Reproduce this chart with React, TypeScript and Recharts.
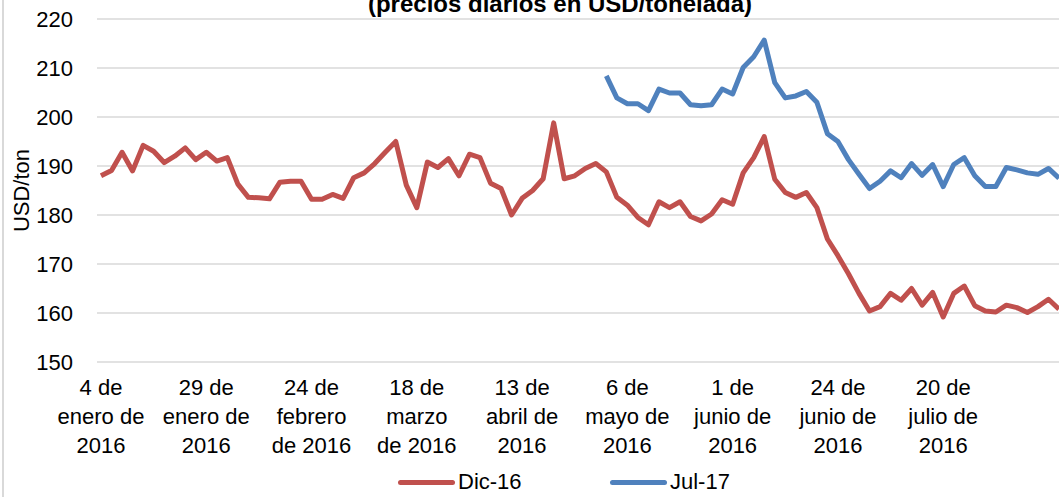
import { LineChart, Line, XAxis, YAxis, CartesianGrid, Legend } from 'recharts';

const DIC_16 = [
  188, 189.1, 192.8, 189, 194.2, 193, 190.7, 192, 193.7, 191.3,
  192.8, 191, 191.7, 186.3, 183.6, 183.5, 183.3, 186.7, 186.9, 186.9,
  183.2, 183.2, 184.2, 183.4, 187.6, 188.6, 190.5, 192.8, 195, 186.1,
  181.5, 190.8, 189.7, 191.5, 188, 192.4, 191.7, 186.5, 185.4, 180,
  183.4, 185, 187.4, 198.8, 187.4, 188, 189.5, 190.5, 188.8, 183.6,
  182, 179.5, 178, 182.7, 181.5, 182.7, 179.7, 178.8, 180.2, 183.1,
  182.2, 188.6, 191.7, 196, 187.3, 184.6, 183.6, 184.6, 181.5, 175.1,
  171.7, 168, 164, 160.4, 161.3, 164, 162.6, 165, 161.6, 164.2,
  159.2, 164, 165.5, 161.5, 160.4, 160.2, 161.6, 161.1, 160.1, 161.3,
  162.8, 160.8,
];

// Jul-17 contract only starts trading at point 48
const JUL_17_START = 48;
const JUL_17 = [
  208.4, 203.9, 202.7, 202.7, 201.3, 205.7, 204.9, 204.9, 202.5, 202.3,
  202.5, 205.7, 204.7, 210.1, 212.3, 215.7, 207, 203.9, 204.3, 205.2,
  203, 196.6, 195, 191.3, 188.3, 185.4, 186.9, 189, 187.6, 190.5,
  188.1, 190.3, 185.8, 190.3, 191.7, 188, 185.8, 185.8, 189.7, 189.2,
  188.6, 188.3, 189.5, 187.5,
];

const TICK_STEP = 10;
const TICK_LABELS = [
  '4 de\nenero de\n2016',
  '29 de\nenero de\n2016',
  '24 de\nfebrero\nde 2016',
  '18 de\nmarzo\nde 2016',
  '13 de\nabril de\n2016',
  '6 de\nmayo de\n2016',
  '1 de\njunio de\n2016',
  '24 de\njunio de\n2016',
  '20 de\njulio de\n2016',
];

const Y_TICKS = [150, 160, 170, 180, 190, 200, 210, 220];

const RED = '#C0504D';
const BLUE = '#4F81BD';
const GRID = '#D9D9D9';
const FONT = '"Liberation Sans", Arial, sans-serif';

const data = DIC_16.map((v, i) => ({
  i,
  dic: v,
  jul: i >= JUL_17_START ? JUL_17[i - JUL_17_START] : null,
  label: i % TICK_STEP === 0 ? TICK_LABELS[i / TICK_STEP] ?? '' : '',
}));

const DateTick = (props: any) => {
  const { x, y, payload } = props;
  const text = data[payload.value]?.label;
  if (!text) return null;
  return (
    <text x={x} y={y} textAnchor="middle" fontSize={22} fill="#000" fontFamily={FONT}>
      {text.split('\n').map((line: string, k: number) => (
        <tspan key={k} x={x} dy={k === 0 ? 33 : 29}>{line}</tspan>
      ))}
    </text>
  );
};

const LegendSample = ({ color, label, left }: { color: string; label: string; left: number }) => (
  <div style={{ position: 'absolute', left, top: 0, height: 30, display: 'flex', alignItems: 'center' }}>
    <div style={{ width: 57, height: 5, borderRadius: 3, background: color, marginRight: 3 }} />
    <span style={{ fontSize: 22, color: '#000', fontFamily: FONT }}>{label}</span>
  </div>
);

export default function App() {
  return (
    <div style={{ position: 'fixed', left: 0, top: 0, width: 1059, height: 497, overflow: 'hidden', background: '#fff' }}>
      <div style={{ position: 'absolute', left: 2, top: 0, width: 2, height: 497, background: GRID }} />
      <svg style={{ position: 'absolute', left: 0, top: 0 }} width={1059} height={30}>
        <text x={560} y={12} textAnchor="middle" fontSize={24} fontWeight="bold" fontFamily={FONT} fill="#000">
          (precios diarios en USD/tonelada)
        </text>
      </svg>
      <LineChart width={1059} height={497} data={data} margin={{ top: 19, right: 0, bottom: 0, left: 0 }}>
        <CartesianGrid vertical={false} stroke={GRID} strokeWidth={1.5} />
        <XAxis
          dataKey="i"
          type="category"
          interval={TICK_STEP - 1}
          padding={{ left: 4, right: 0 }}
          axisLine={false}
          tickLine={false}
          tickSize={0}
          tickMargin={0}
          height={105}
          tick={<DateTick />}
        />
        <YAxis
          domain={[150, 220]}
          ticks={Y_TICKS}
          width={97}
          axisLine={false}
          tickLine={false}
          tickSize={0}
          tickMargin={24}
          tick={{ fontSize: 22, fill: '#000', fontFamily: FONT }}
          label={{
            value: 'USD/ton',
            content: ({ viewBox }: any) => (
              <text
                x={viewBox.x + 21}
                y={viewBox.y + viewBox.height / 2}
                transform={`rotate(-90, ${viewBox.x + 21}, ${viewBox.y + viewBox.height / 2})`}
                textAnchor="middle"
                dominantBaseline="central"
                fontSize={22}
                fontFamily={FONT}
                fill="#000"
              >
                USD/ton
              </text>
            ),
          }}
        />
        <Legend
          verticalAlign="bottom"
          height={30}
          content={() => (
            <div style={{ position: 'relative', height: 30 }}>
              <LegendSample color={RED} label="Dic-16" left={398} />
              <LegendSample color={BLUE} label="Jul-17" left={610} />
            </div>
          )}
        />
        <Line
          name="Dic-16"
          dataKey="dic"
          stroke={RED}
          strokeWidth={5}
          strokeLinejoin="round"
          dot={false}
          isAnimationActive={false}
        />
        <Line
          name="Jul-17"
          dataKey="jul"
          stroke={BLUE}
          strokeWidth={5}
          strokeLinejoin="round"
          dot={false}
          connectNulls={false}
          isAnimationActive={false}
        />
      </LineChart>
    </div>
  );
}
